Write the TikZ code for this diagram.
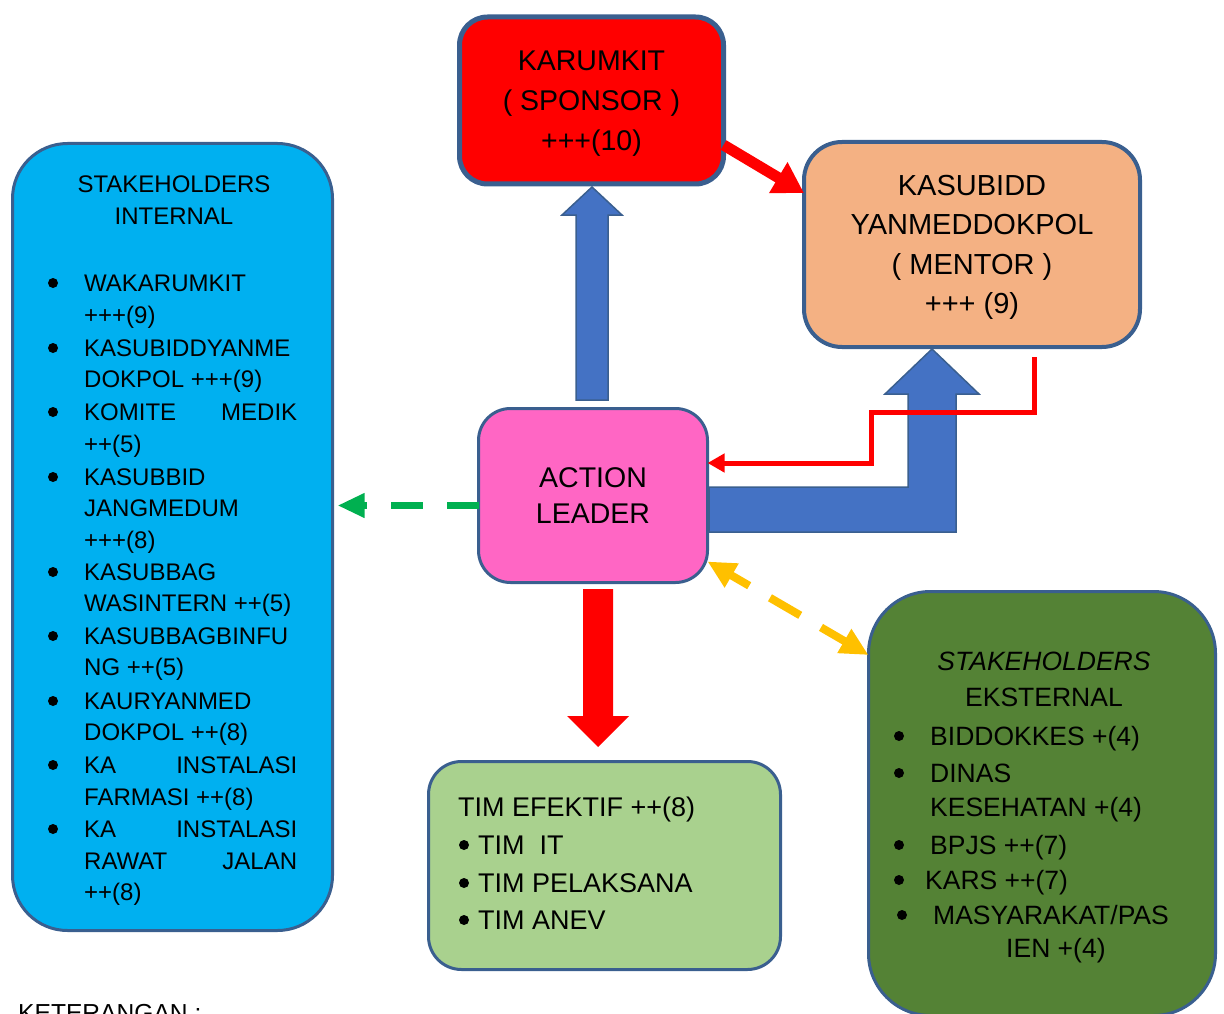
\documentclass[tikz,border=0pt]{standalone}
\usepackage{fontspec}
\setmainfont{Liberation Sans}
\usetikzlibrary{arrows.meta,calc}

\definecolor{edgeblue}{HTML}{3A5F8F}
\definecolor{sponsorred}{HTML}{FF0000}
\definecolor{mentorpeach}{HTML}{F4B183}
\definecolor{leaderpink}{HTML}{FF66C4}
\definecolor{internalblue}{HTML}{00B0F0}
\definecolor{teamgreen}{HTML}{A9D18E}
\definecolor{externalgreen}{HTML}{548235}
\definecolor{blockblue}{HTML}{4472C4}
\definecolor{dashgreen}{HTML}{00B050}
\definecolor{dashyellow}{HTML}{FFC000}

\begin{document}
\begin{tikzpicture}[x=1pt,y=-1pt,
  box/.style={draw=edgeblue, line width=3pt, rounded corners=#1, inner sep=0pt,
    outer sep=0pt, align=center, text=black, text depth=0pt},
  blockarrow/.style={fill=blockblue, draw=edgeblue, line width=1.5pt, line join=miter},
  intxt/.style={inner sep=0pt, anchor=base west, font=\fontsize{24}{30}\selectfont},
  exttxt/.style={inner sep=0pt, anchor=base west, font=\fontsize{26.5}{33}\selectfont},
  teamtxt/.style={inner sep=0pt, anchor=base west, font=\fontsize{27}{34}\selectfont},
  dot/.style={circle, fill=black, inner sep=0pt, minimum size=10pt},
]
\useasboundingbox (0,0) rectangle (1224,1014);

% block arrows (drawn first so the boxes sit on top)
\draw[blockarrow] (576,400) -- (576,215) -- (562,215) -- (592,187) -- (622,215)
  -- (608,215) -- (608,400) -- cycle;
\draw[blockarrow] (709,487) -- (908,487) -- (908,394) -- (885,394) -- (932,349)
  -- (979,394) -- (956,394) -- (956,532) -- (709,532) -- cycle;
\fill[sponsorred] (583,589) -- (613,589) -- (613,716) -- (629,716) -- (598,747)
  -- (567,716) -- (583,716) -- cycle;

% main boxes
\node[box=28pt, fill=sponsorred, line width=5pt, minimum width=264pt, minimum height=167pt,
  font=\fontsize{28.5}{40}\selectfont] (karumkit) at (591.5,100.5)
  {KARUMKIT\\( SPONSOR )\\+++(10)};
\node[box=38pt, fill=mentorpeach, line width=4pt, minimum width=336pt, minimum height=205pt,
  font=\fontsize{29}{39.5}\selectfont] (kasubidd) at (972,244.5)
  {KASUBIDD\\YANMEDDOKPOL\\( MENTOR )\\+++ (9)};
\node[box=32pt, fill=leaderpink, minimum width=229pt, minimum height=174pt,
  font=\fontsize{28.5}{36}\selectfont] (leader) at (593,495.5)
  {ACTION\\LEADER};
\node[box=33pt, fill=teamgreen, minimum width=352pt, minimum height=208pt] (team) at (604.5,865.5) {};
\node[box=55pt, fill=internalblue, minimum width=320pt, minimum height=787pt] (internal) at (172.5,537) {};
\node[box=62pt, fill=externalgreen, minimum width=347pt, minimum height=424pt] (external) at (1042,803.5) {};

% internal stakeholders
\node[intxt, anchor=base] (inhead1) at (174,192.6) {STAKEHOLDERS};
\node[intxt, anchor=base] (inhead2) at (174,224.6) {INTERNAL};
\foreach \y/\t [count=\i] in {
  283/WAKARUMKIT, 315/{+++(9)}, 348/KASUBIDDYANME, 379/{DOKPOL +++(9)},
  412/{KOMITE\hfill MEDIK}, 444/{++(5)}, 477/KASUBBID, 508/JANGMEDUM, 540/{+++(8)},
  572/KASUBBAG, 603/{WASINTERN ++(5)}, 636/KASUBBAGBINFU, 667/{NG ++(5)},
  701/KAURYANMED, 732/{DOKPOL ++(8)}, 765/{KA\hfill INSTALASI}, 797/{FARMASI ++(8)},
  829/{KA\hfill INSTALASI}, 861/{RAWAT\hfill JALAN}, 892/{++(8)}}
  \node[intxt] (in\i) at (84,\y+8.6) {\makebox[213pt][l]{\t}};
\foreach \y [count=\i] in {283,348,412,477,572,636,701,765,829}
  \node[dot] (indot\i) at (53,\y) {};

% external stakeholders
\node[exttxt, anchor=base, font=\fontsize{26.5}{33}\selectfont\itshape] (exhead1) at (1044,670.5) {STAKEHOLDERS};
\node[exttxt, anchor=base] (exhead2) at (1044,706.5) {EKSTERNAL};
\foreach \x/\y/\t [count=\i] in {
  930/736/{BIDDOKKES +(4)}, 930/773/DINAS, 930/807/{KESEHATAN +(4)},
  930/845/{BPJS ++(7)}, 925/880/{KARS ++(7)}, 933/915/{MASYARAKAT/PAS}, 1006/948/{IEN +(4)}}
  \node[exttxt] (ex\i) at (\x,\y+9.5) {\t};
\foreach \x/\y [count=\i] in {899/736, 899/773, 899/845, 899/880, 902/915}
  \node[dot] (exdot\i) at (\x,\y) {};

% effective team
\node[teamtxt] (tm0) at (458,816.7) {TIM EFEKTIF ++(8)};
\foreach \y/\t [count=\i] in {845/{TIM\ \ IT}, 883/{TIM PELAKSANA}, 920/{TIM ANEV}} {
  \node[dot] (tmdot\i) at (464,\y) {};
  \node[teamtxt] (tm\i) at (478,\y+9.7) {\t};
}

% caption, running off the lower edge
\node[inner sep=0pt, anchor=base west, font=\fontsize{24.6}{30}\selectfont] (caption) at (18,1021) {KETERANGAN :};

% connectors
\draw[sponsorred, line width=11pt, -{Triangle[length=30pt,width=34pt]}]
  ([yshift=-44.5pt]karumkit.east) -- ([yshift=51.5pt]kasubidd.west);

\coordinate (r0) at (1034,357);
\coordinate (r1) at (871,412);
\coordinate (r2) at (871,463);
\draw[sponsorred, line width=5pt, line join=miter, -{Triangle[length=17pt,width=18pt]}]
  (r0) |- (r1) -- (r2) -- (r2 -| leader.east);

\coordinate (g0) at ([yshift=-10pt]leader.west);
\draw[dashgreen, line width=7pt, dash pattern=on 32pt off 24pt,
  shorten >=5pt, -{Triangle[length=27pt,width=23pt]}]
  (g0) -- (g0 -| internal.east);

\draw[dashyellow, line width=8pt, dash pattern=on 22pt off 24pt on 35pt off 24pt on 40pt,
  {Triangle[length=28pt,width=26pt]}-{Triangle[length=28pt,width=26pt]}]
  ([yshift=-66pt]leader.east) -- ([yshift=148.5pt]external.west);
\end{tikzpicture}
\end{document}
